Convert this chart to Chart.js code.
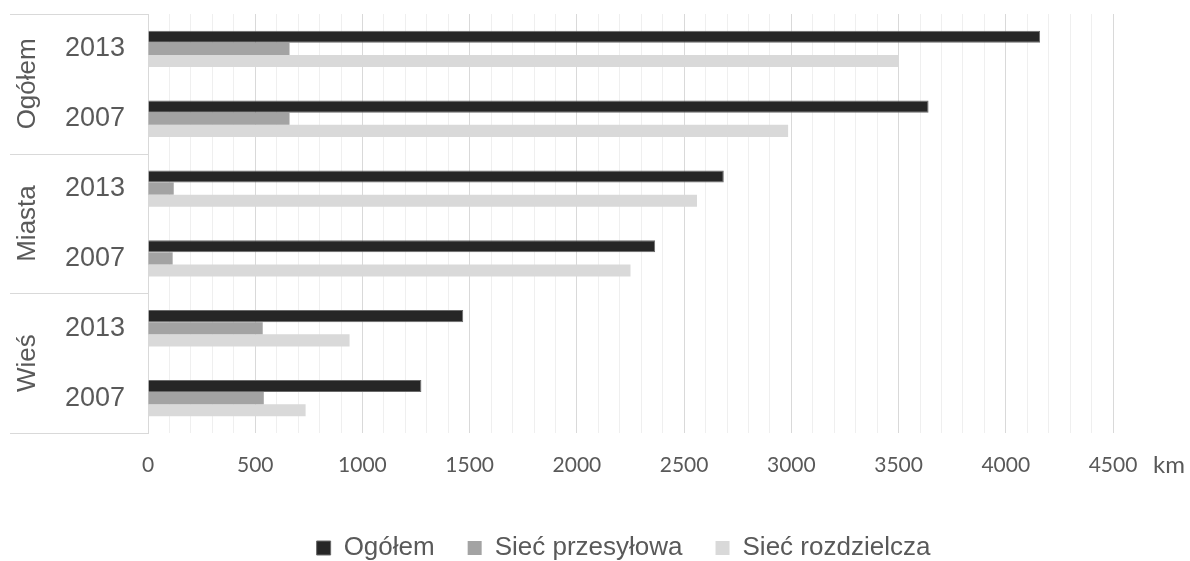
<!DOCTYPE html>
<html lang="pl">
<head>
    <meta charset="UTF-8">
    <title>Sieć gazowa</title>
    <script src="https://cdn.jsdelivr.net/npm/chart.js@4.4.1/dist/chart.umd.min.js"></script>
    <style>
        html, body { margin: 0; padding: 0; background: #ffffff; }
        #wrap { width: 1190px; height: 561px; }
    </style>
</head>
<body>
    <div id="wrap"><canvas id="chart"></canvas></div>

    <script>
        // data (km)
        const years = ['2013', '2007', '2013', '2007', '2013', '2007'];
        const groups = ['Ogółem', 'Miasta', 'Wieś'];
        const seriesNames = ['Ogółem', 'Sieć przesyłowa', 'Sieć rozdzielcza'];
        const ogolem = [4160, 3640, 2685, 2365, 1470, 1275];
        const przesylowa = [660, 660, 120, 115, 535, 540];
        const rozdzielcza = [3500, 2985, 2560, 2250, 940, 735];
        const unitLabel = 'km';

        const textColor = '#595959';
        const lineColor = '#d9d9d9';

        // group labels on the left + separator lines + km label
        const groupPlugin = {
            id: 'groupLabels',
            afterLayout(chart) {
                // move the legend a bit to the right, like in the original
                chart.legend.left += 62;
                chart.legend.right += 62;
            },
            afterDraw(chart) {
                const ctx = chart.ctx;
                const area = chart.chartArea;
                const per = years.length / groups.length;
                const band = (area.bottom - area.top) / years.length;
                ctx.save();
                ctx.strokeStyle = lineColor;
                ctx.lineWidth = 1;
                for (let i = 0; i <= groups.length; i++) {
                    const y = Math.round(area.top + i * per * band) + 0.5;
                    ctx.beginPath();
                    ctx.moveTo(10, y);
                    ctx.lineTo(area.left, y);
                    ctx.stroke();
                }
                ctx.fillStyle = textColor;
                ctx.font = '26px "Liberation Sans", Arial, sans-serif';
                ctx.textAlign = 'center';
                ctx.textBaseline = 'middle';
                groups.forEach(function (g, i) {
                    const yc = area.top + (i + 0.5) * per * band;
                    ctx.save();
                    ctx.translate(28, yc);
                    ctx.rotate(-Math.PI / 2);
                    ctx.fillText(g, 0, 0);
                    ctx.restore();
                });
                // unit label next to the x axis
                ctx.font = '24px Lato, sans-serif';
                ctx.textAlign = 'left';
                ctx.fillText(unitLabel, 1153, 465);
                ctx.restore();
            }
        };

        new Chart('chart', {
            type: 'bar',
            data: {
                labels: years,
                datasets: [
                    { label: seriesNames[0], data: ogolem, backgroundColor: '#262626', borderColor: '#6a6a6a', borderWidth: 1 },
                    { label: seriesNames[1], data: przesylowa, backgroundColor: '#a3a3a3', borderWidth: 0 },
                    { label: seriesNames[2], data: rozdzielcza, backgroundColor: '#d9d9d9', borderWidth: 0 }
                ]
            },
            options: {
                indexAxis: 'y',
                responsive: true,
                maintainAspectRatio: false,
                animation: false,
                layout: { padding: { left: 10, right: 77, top: 14, bottom: -10 } },
                datasets: { bar: { categoryPercentage: 0.52, barPercentage: 1.0 } },
                scales: {
                    x: {
                        type: 'linear',
                        min: 0,
                        max: 4500,
                        afterFit: function (scale) {
                            scale.height = 69;
                            scale.paddingLeft = 0;
                            scale.paddingRight = 0;
                        },
                        border: { display: false },
                        grid: {
                            drawTicks: false,
                            color: function (c) {
                                return c.tick && c.tick.value % 500 === 0 ? '#d9d9d9' : '#efefef';
                            }
                        },
                        ticks: {
                            stepSize: 100,
                            autoSkip: false,
                            maxRotation: 0,
                            padding: 20,
                            color: textColor,
                            font: { family: 'Lato, sans-serif', size: 21 },
                            callback: function (v) { return v % 500 === 0 ? String(v) : ''; }
                        }
                    },
                    y: {
                        afterFit: function (scale) {
                            scale.width = 138;
                            scale.paddingTop = 0;
                            scale.paddingBottom = 0;
                        },
                        border: { display: true, color: lineColor },
                        grid: { display: false, drawTicks: false },
                        ticks: {
                            padding: 23,
                            color: textColor,
                            font: { family: '"Liberation Sans", Arial, sans-serif', size: 27 }
                        }
                    }
                },
                plugins: {
                    legend: {
                        position: 'bottom',
                        labels: {
                            boxWidth: 14,
                            boxHeight: 14,
                            padding: 33,
                            color: textColor,
                            font: { family: '"Liberation Sans", Arial, sans-serif', size: 26 }
                        }
                    },
                    tooltip: { enabled: false }
                }
            },
            plugins: [groupPlugin]
        });
    </script>
</body>
</html>
